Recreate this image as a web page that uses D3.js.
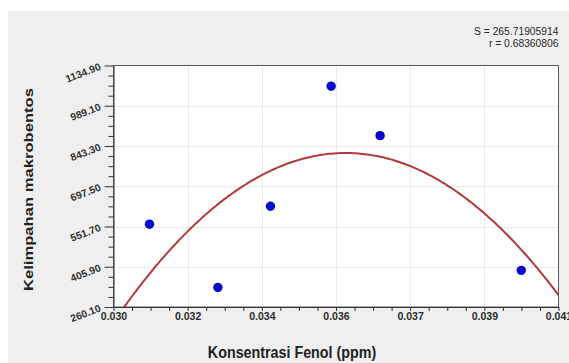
<!DOCTYPE html>
<html>
<head>
<meta charset="utf-8">
<script src="https://cdn.jsdelivr.net/npm/d3@7"></script>
<style>
  html, body { margin: 0; padding: 0; background: #ffffff; }
  svg { display: block; }
  text { font-family: "Liberation Sans", Arial, sans-serif; }
</style>
</head>
<body>
<svg id="chart" width="569" height="363"></svg>
<script>
// ---- data ----
const concentration = [0.03089, 0.03258, 0.03388, 0.03538, 0.03659, 0.04008];
const abundance     = [560.1, 331.3, 625.2, 1060.0, 880.8, 392.8];

// fitted quadratic (vertex form)
const fitPeakX = 0.03574;
const fitPeakY = 817.9;
const fitCurv  = 1.86e7;

const xTickValues = [0.030, 0.0318333, 0.0336667, 0.0355, 0.0373333, 0.0391667, 0.041];
const xTickLabels = ["0.030", "0.032", "0.034", "0.036", "0.037", "0.039", "0.041"];
const yTickValues = [260.10, 405.90, 551.70, 697.50, 843.30, 989.10, 1134.90];
const yTickLabels = ["260.10", "405.90", "551.70", "697.50", "843.30", "989.10", "1134.90"];

const statLines = ["S = 265.71905914", "r = 0.68360806"];
const xTitle = "Konsentrasi Fenol (ppm)";
const yTitle = "Kelimpahan makrobentos";

// ---- layout ----
const svg = d3.select("#chart");
const W = 569, H = 363;
const L = 113.5, R = 558.5, T = 65.5, B = 307;

svg.append("rect").attr("x", 8).attr("y", 11).attr("width", W - 8).attr("height", H - 11)
  .attr("fill", "#efefef");

const x = d3.scaleLinear().domain([0.030, 0.041]).range([L, R]);
const y = d3.scaleLinear().domain([260.10, 1134.90]).range([B, T]);

// plot area
svg.append("rect").attr("x", L).attr("y", T).attr("width", R - L).attr("height", B - T)
  .attr("fill", "#ffffff");

// grid
const grid = svg.append("g").attr("stroke", "#d6d6d6").attr("stroke-width", 1)
  .attr("stroke-dasharray", "1,1");
grid.selectAll("line.v").data(xTickValues.slice(1, -1)).join("line")
  .attr("x1", d => Math.round(x(d)) + 0.5).attr("x2", d => Math.round(x(d)) + 0.5)
  .attr("y1", T).attr("y2", B);
grid.selectAll("line.h").data(yTickValues.slice(1, -1)).join("line")
  .attr("y1", d => Math.round(y(d)) + 0.5).attr("y2", d => Math.round(y(d)) + 0.5)
  .attr("x1", L).attr("x2", R);

// frame
svg.append("rect").attr("x", L).attr("y", T).attr("width", R - L).attr("height", B - T)
  .attr("fill", "none").attr("stroke", "#5a5a5a").attr("stroke-width", 1);

// minor tick values (3 between each major)
function minors(vals) {
  const out = [];
  for (let i = 0; i < vals.length - 1; i++) {
    for (let k = 1; k < 4; k++) out.push(vals[i] + (vals[i + 1] - vals[i]) * k / 4);
  }
  return out;
}

// x axis
const xAxis = svg.append("g").attr("transform", `translate(0,${B})`)
  .call(d3.axisBottom(x).tickValues(xTickValues).tickSize(4).tickSizeOuter(0)
    .tickFormat((d, i) => xTickLabels[i]));
xAxis.select(".domain").attr("stroke", "#333");
xAxis.selectAll(".tick line").attr("stroke", "#333");
xAxis.selectAll(".tick text").attr("font-size", "10.5px").attr("font-weight", "bold")
  .attr("fill", "#2a2a2a").attr("dy", "0.55em")
  .style("font-family", "'Liberation Sans', Arial, sans-serif");
const xMinor = svg.append("g").attr("transform", `translate(0,${B})`)
  .call(d3.axisBottom(x).tickValues(minors(xTickValues)).tickSize(4).tickFormat(""));
xMinor.select(".domain").remove();
xMinor.selectAll(".tick line").attr("stroke", "#333");

// y axis
const yAxis = svg.append("g").attr("transform", `translate(${L},0)`)
  .call(d3.axisLeft(y).tickValues(yTickValues).tickSize(9).tickSizeOuter(0)
    .tickFormat((d, i) => yTickLabels[i]));
yAxis.select(".domain").attr("stroke", "#333");
yAxis.selectAll(".tick line").attr("stroke", "#333");
yAxis.selectAll(".tick text")
  .attr("x", null).attr("dy", null).attr("y", null)
  .attr("text-anchor", "end")
  .attr("font-size", "10.3px").attr("font-weight", "bold").attr("fill", "#333")
  .style("font-family", "'Liberation Sans', Arial, sans-serif")
  .attr("transform", "translate(-12,3.5) rotate(-21)");
const yMinor = svg.append("g").attr("transform", `translate(${L},0)`)
  .call(d3.axisLeft(y).tickValues(minors(yTickValues)).tickSize(5).tickFormat(""));
yMinor.select(".domain").remove();
yMinor.selectAll(".tick line").attr("stroke", "#333");

// fitted curve
const curveX = d3.range(0, 201).map(i => 0.030 + (0.041 - 0.030) * i / 200);
const fitVal = v => fitPeakY - fitCurv * (v - fitPeakX) * (v - fitPeakX);
svg.append("defs").append("clipPath").attr("id", "clip")
  .append("rect").attr("x", L).attr("y", T).attr("width", R - L).attr("height", B - T);
svg.append("path")
  .datum(curveX)
  .attr("clip-path", "url(#clip)")
  .attr("d", d3.line().x(d => x(d)).y(d => y(fitVal(d))))
  .attr("fill", "none").attr("stroke", "#b23a3a").attr("stroke-width", 2);

// points
svg.append("g").selectAll("circle").data(concentration).join("circle")
  .attr("cx", d => x(d)).attr("cy", (d, i) => y(abundance[i]))
  .attr("r", 4.7).attr("fill", "#0808cc");

// stats text
svg.append("g").selectAll("text").data(statLines).join("text")
  .attr("x", 558.5).attr("y", (d, i) => 35.3 + i * 11.4)
  .attr("text-anchor", "end").attr("font-size", "10.3px").attr("fill", "#2a2a2a")
  .text(d => d);

// axis titles
svg.append("text").attr("transform", "translate(292,357.5) scale(1,1.2)")
  .attr("text-anchor", "middle").attr("font-size", "14.3px").attr("font-weight", "bold")
  .attr("fill", "#222").text(xTitle);

svg.append("text").attr("transform", "translate(32.5,189.5) rotate(-90)")
  .attr("text-anchor", "middle").attr("font-size", "12.2px").attr("font-weight", "bold")
  .attr("textLength", 203).attr("lengthAdjust", "spacingAndGlyphs")
  .attr("fill", "#222").text(yTitle);
</script>
</body>
</html>
